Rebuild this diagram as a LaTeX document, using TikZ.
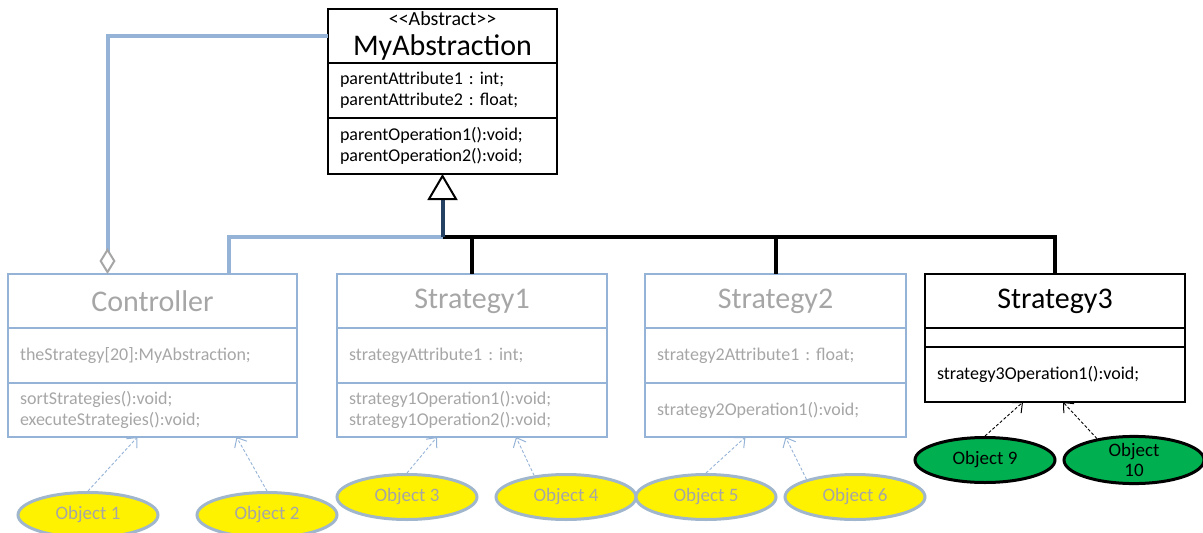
\documentclass[tikz,border=0pt]{standalone}
\usepackage{fontspec}
\setmainfont{Carlito}
\usetikzlibrary{positioning, arrows.meta, shapes.geometric}

\definecolor{umlblue}{RGB}{149,179,215}
\definecolor{umlgrey}{RGB}{166,166,166}
\definecolor{umlnavy}{RGB}{36,64,98}
\definecolor{objgreen}{RGB}{0,176,80}
\definecolor{objedge}{RGB}{160,182,204}

\frenchspacing
\begin{document}
\begin{tikzpicture}[x=1pt, y=-1pt,
  umlpart/.style={draw, rectangle, outer sep=0pt, inner xsep=12pt, inner ysep=0pt, minimum height=55pt, align=left, font=\fontsize{18}{21}\selectfont},
  umlhead/.style={umlpart, align=center, minimum height=54pt, font=\fontsize{30}{30}\selectfont},
  faded/.style={draw=umlblue, text=umlgrey, line width=2pt},
  strong/.style={draw=black, text=black, line width=2.5pt},
  obj/.style={ellipse, minimum width=140pt, minimum height=45pt, inner sep=0pt, line width=3pt, align=center, font=\fontsize{19}{20}\selectfont},
  yellowobj/.style={obj, draw=objedge, fill=yellow, text=umlgrey},
  greenobj/.style={obj, draw=black, fill=objgreen, text=black},
  objlink/.style={umlblue, line width=0.9pt, dash pattern=on 3pt off 2pt, -{Straight Barb[length=8pt, width=14pt, line width=1pt]}}]

  \useasboundingbox (0,0) rectangle (1203,533);

  % abstract parent
  \node[umlhead, strong, text width=205pt, anchor=north west] (absName) at (328,9)
    {{\fontsize{20}{20}\selectfont <\kern0pt<Abstract>\kern0pt>}\\[0pt]MyAbstraction};
  \node[umlpart, strong, text width=205pt, below=0pt of absName] (absAttr) {parentAttribute1 : int;\\parentAttribute2 : float;};
  \node[umlpart, strong, text width=205pt, minimum height=56pt, below=0pt of absAttr] (absOps) {parentOperation1():void;\\parentOperation2():void;};

  % controller and strategies
  \node[umlhead, faded, text width=265pt, anchor=north west] (ctrlName) at (8,274) {Controller};
  \node[umlpart, faded, text width=265pt, below=0pt of ctrlName] (ctrlAttr) {theStrategy[20]:MyAbstraction;};
  \node[umlpart, faded, text width=265pt, minimum height=54pt, below=0pt of ctrlAttr] (ctrlOps) {sortStrategies():void;\\executeStrategies():void;};

  \node[umlhead, faded, text width=246pt, anchor=north west] (s1Name) at (337,274) {Strategy1};
  \node[umlpart, faded, text width=246pt, below=0pt of s1Name] (s1Attr) {strategyAttribute1 : int;};
  \node[umlpart, faded, text width=246pt, minimum height=54pt, below=0pt of s1Attr] (s1Ops) {strategy1Operation1():void;\\strategy1Operation2():void;};

  \node[umlhead, faded, text width=237pt, anchor=north west] (s2Name) at (645,274) {Strategy2};
  \node[umlpart, faded, text width=237pt, below=0pt of s2Name] (s2Attr) {strategy2Attribute1 : float;};
  \node[umlpart, faded, text width=237pt, minimum height=54pt, below=0pt of s2Attr] (s2Ops) {strategy2Operation1():void;};

  \node[umlhead, strong, text width=236pt, anchor=north west] (s3Name) at (925,274) {Strategy3};
  \node[umlpart, strong, text width=236pt, minimum height=19pt, below=0pt of s3Name] (s3Attr) {};
  \node[umlpart, strong, text width=236pt, below=0pt of s3Attr] (s3Ops) {strategy3Operation1():void;};

  % objects
  \node[yellowobj] (obj1) at (88,515) {Object 1};
  \node[yellowobj] (obj2) at (267,515) {Object 2};
  \node[yellowobj] (obj3) at (407,497) {Object 3};
  \node[yellowobj] (obj4) at (566,497) {Object 4};
  \node[yellowobj] (obj5) at (706,497) {Object 5};
  \node[yellowobj] (obj6) at (855,497) {Object 6};
  \node[greenobj] (obj9) at (985,460) {Object 9};
  \node[greenobj] (obj10) at (1134,460) {Object\\10};

  % inheritance and aggregation
  \coordinate (barY) at (0,237);
  \coordinate (hub) at (absOps.south |- barY);
  \draw[umlblue, line width=4pt] (hub) -| ([xshift=76pt]ctrlName.north);
  \draw[line width=4pt] (hub) -| (s3Name.north);
  \draw[line width=4pt] (s1Name.north |- hub) -- (s1Name.north);
  \draw[line width=4pt] (s2Name.north |- hub) -- (s2Name.north);
  \draw[umlnavy, line width=4pt, -{Triangle[open, fill=white, color=black, length=26pt, width=30pt, line width=2pt]}] (hub) -- (absOps.south);
  \draw[umlblue, line width=4pt, -{Diamond[open, fill=white, color=umlgrey, length=26pt, width=16pt, line width=2pt]}] (absName.west) -| ([xshift=-45pt]ctrlName.north);

  \draw[objlink] (obj1.north) -- ([xshift=-15pt]ctrlOps.south);
  \draw[objlink] (obj2.north) -- ([xshift=84pt]ctrlOps.south);
  \draw[objlink] (obj3.north) -- ([xshift=-35pt]s1Ops.south);
  \draw[objlink] (obj4.146) -- ([xshift=44pt]s1Ops.south);
  \draw[objlink] (obj5.north) -- ([xshift=-30pt]s2Ops.south);
  \draw[objlink] (obj6.160) -- ([xshift=10pt]s2Ops.south);
  \draw[objlink, black] (obj9.north) -- ([xshift=-32pt]s3Ops.south);
  \draw[objlink, black] (obj10.150) -- ([xshift=8pt]s3Ops.south);
\end{tikzpicture}
\end{document}
